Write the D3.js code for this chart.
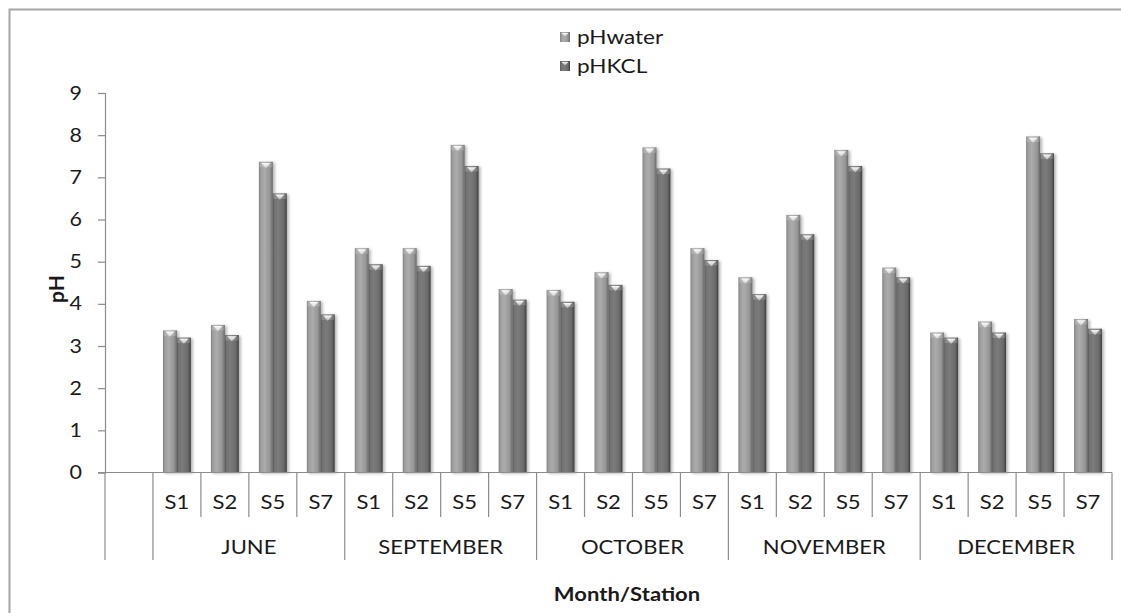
<!DOCTYPE html>
<html>
<head>
<meta charset="utf-8">
<script src="https://cdn.jsdelivr.net/npm/d3@7"></script>
<style>
  html, body { margin: 0; padding: 0; background: #ffffff; }
  svg { display: block; }
  text { font-family: Lato, "Open Sans", sans-serif; fill: #1a1a1a; }
</style>
</head>
<body>
<svg id="chart" width="1121" height="613"></svg>
<script>
// Sampling months and stations
const months = ["JUNE", "SEPTEMBER", "OCTOBER", "NOVEMBER", "DECEMBER"];
const stations = ["S1", "S2", "S5", "S7"];
const seriesNames = ["pHwater", "pHKCL"];

// pH per month, in station order S1, S2, S5, S7
const pHwater = [
  [3.37, 3.50, 7.37, 4.07],
  [5.32, 5.32, 7.77, 4.35],
  [4.33, 4.75, 7.71, 5.32],
  [4.63, 6.11, 7.65, 4.86],
  [3.32, 3.58, 7.97, 3.64]
];
const pHKCL = [
  [3.20, 3.26, 6.62, 3.75],
  [4.94, 4.90, 7.27, 4.10],
  [4.05, 4.45, 7.21, 5.04],
  [4.23, 5.65, 7.27, 4.63],
  [3.20, 3.32, 7.57, 3.41]
];
const yTicks = [0, 1, 2, 3, 4, 5, 6, 7, 8, 9];

const svg = d3.select("#chart");
const plot = { left: 105, right: 1112, top: 93, bottom: 472.5 };
const textStretch = 1.13;   // labels are drawn slightly wide
const fontSize = 19.5;

// Places a label at (tx, ty), widened horizontally around its anchor
function label(parent, tx, ty, str, opts = {}) {
  const g = parent.append("g")
    .attr("transform", `translate(${tx},${ty}) scale(${opts.sx ?? textStretch},1)`);
  const t = g.append("text")
    .attr("x", 0).attr("y", 0).attr("dy", "0.35em")
    .attr("text-anchor", opts.anchor ?? "middle")
    .attr("font-size", opts.size ?? fontSize)
    .text(str);
  if (opts.bold) t.attr("font-weight", "bold");
  return g;
}

// Chart frame
svg.append("rect")
  .attr("x", 9.5).attr("y", 9.5).attr("width", 1130).attr("height", 620)
  .attr("fill", "#ffffff").attr("stroke", "#a6a6a6").attr("stroke-width", 2);

// One leading empty slot, then every month/station pair
const slots = [""];
months.forEach(m => stations.forEach(s => slots.push(m + "|" + s)));

const x = d3.scaleBand().domain(slots).range([plot.left, plot.right]).paddingInner(0).paddingOuter(0);
const xs = d3.scaleBand().domain(seriesNames).range([0, x.bandwidth()]).paddingInner(0).paddingOuter(0.72);
const y = d3.scaleLinear().domain([0, 9]).range([plot.bottom, plot.top]);

// Gradients giving the bars their rounded look
const defs = svg.append("defs");
const palettes = {
  pHwater: [["0%", "#7c7c7c"], ["12%", "#9c9c9c"], ["40%", "#acacac"], ["80%", "#959595"], ["100%", "#666666"]],
  pHKCL:   [["0%", "#565656"], ["12%", "#727272"], ["40%", "#7b7b7b"], ["80%", "#6a6a6a"], ["100%", "#3c3c3c"]]
};
Object.entries(palettes).forEach(([name, stops]) => {
  const g = defs.append("linearGradient").attr("id", "grad-" + name)
    .attr("x1", "0%").attr("x2", "100%").attr("y1", "0%").attr("y2", "0%");
  stops.forEach(([o, c]) => g.append("stop").attr("offset", o).attr("stop-color", c));
});
const capGrad = defs.append("linearGradient").attr("id", "cap")
  .attr("x1", "0%").attr("x2", "0%").attr("y1", "0%").attr("y2", "100%");
capGrad.append("stop").attr("offset", "0%").attr("stop-color", "#ffffff").attr("stop-opacity", 0.95);
capGrad.append("stop").attr("offset", "100%").attr("stop-color", "#ffffff").attr("stop-opacity", 0.35);

const shadow = defs.append("filter").attr("id", "shadow")
  .attr("x", "-30%").attr("y", "-10%").attr("width", "180%").attr("height", "130%");
shadow.append("feGaussianBlur").attr("in", "SourceAlpha").attr("stdDeviation", 1.6).attr("result", "b");
shadow.append("feOffset").attr("in", "b").attr("dx", 2).attr("dy", 1).attr("result", "o");
shadow.append("feComponentTransfer").attr("in", "o").attr("result", "s")
  .append("feFuncA").attr("type", "linear").attr("slope", 0.3);
const merge = shadow.append("feMerge");
merge.append("feMergeNode").attr("in", "s");
merge.append("feMergeNode").attr("in", "SourceGraphic");

// Flatten values into bar records
const bars = [];
months.forEach((m, mi) => stations.forEach((s, si) => {
  bars.push({ slot: m + "|" + s, series: "pHwater", value: pHwater[mi][si] });
  bars.push({ slot: m + "|" + s, series: "pHKCL", value: pHKCL[mi][si] });
}));

const barG = svg.append("g").selectAll("g").data(bars).join("g")
  .attr("transform", d => `translate(${x(d.slot) + xs(d.series)},0)`)
  .attr("filter", "url(#shadow)");

const bw = xs.bandwidth();
barG.append("rect")
  .attr("x", 0).attr("width", bw)
  .attr("y", d => y(d.value)).attr("height", d => y(0) - y(d.value))
  .attr("fill", d => `url(#grad-${d.series})`);
// Bevelled top edge
barG.append("rect")
  .attr("x", 0.5).attr("width", bw - 1)
  .attr("y", d => y(d.value) + 0.5).attr("height", 5)
  .attr("fill", "#ffffff").attr("opacity", 0.18);
barG.append("path")
  .attr("d", d => {
    const t = y(d.value);
    return `M${2.5},${t + 1.2} L${bw - 2.5},${t + 1.2} L${bw / 2},${t + 6.5} Z`;
  })
  .attr("fill", "url(#cap)");

// Y axis
const axisColor = "#8c8c8c";
const yAxis = svg.append("g")
  .attr("transform", `translate(${plot.left},0)`)
  .call(d3.axisLeft(y).tickValues(yTicks).tickSize(7).tickFormat(""));
yAxis.select(".domain").attr("stroke", axisColor).attr("stroke-width", 1.2);
yAxis.selectAll(".tick line").attr("stroke", axisColor).attr("stroke-width", 1.2);
const yLabels = svg.append("g");
yTicks.forEach(v => label(yLabels, 82, y(v), d3.format("d")(v), { anchor: "end", size: 19 }));

// X axis baseline
svg.append("line")
  .attr("x1", plot.left - 7).attr("x2", plot.right)
  .attr("y1", plot.bottom).attr("y2", plot.bottom)
  .attr("stroke", axisColor).attr("stroke-width", 1.2);

// Category dividers: station level and month level
const stationRow = 517, monthRow = 560;
const lines = svg.append("g").attr("stroke", axisColor).attr("stroke-width", 1.2);
slots.forEach((s, i) => {
  const xi = x(s);
  const monthEdge = (i - 1) % stations.length === 0 || i <= 1;
  lines.append("line").attr("x1", xi).attr("x2", xi)
    .attr("y1", plot.bottom).attr("y2", monthEdge ? monthRow : stationRow);
});
lines.append("line").attr("x1", plot.right).attr("x2", plot.right)
  .attr("y1", plot.bottom).attr("y2", monthRow);

// Station labels
const stationLabels = svg.append("g");
slots.slice(1).forEach(d => label(stationLabels, x(d) + x.bandwidth() / 2, 502, d.split("|")[1]));

// Month labels
const monthLabels = svg.append("g");
months.forEach(m => {
  const cx = (x(m + "|" + stations[0]) + x(m + "|" + stations[stations.length - 1]) + x.bandwidth()) / 2;
  label(monthLabels, cx, 547, m);
});

// Axis titles
svg.append("text")
  .attr("transform", "translate(57,289) rotate(-90)")
  .attr("text-anchor", "middle").attr("dy", "0.35em")
  .attr("font-size", 21).attr("font-weight", "bold")
  .text("pH");
label(svg, 627, 594, "Month/Station", { bold: true, size: 19.5 });

// Legend
const legend = svg.append("g").selectAll("g").data(seriesNames).join("g")
  .attr("transform", (d, i) => `translate(560,${37 + i * 29})`);
legend.append("rect")
  .attr("x", 0).attr("y", -5).attr("width", 10).attr("height", 10)
  .attr("fill", d => `url(#grad-${d})`);
legend.append("path")
  .attr("d", "M1.5,-4 L8.5,-4 L5,-0.5 Z")
  .attr("fill", "url(#cap)");
legend.each(function (d) { label(d3.select(this), 17, 0, d, { anchor: "start", size: 20 }); });
</script>
</body>
</html>
